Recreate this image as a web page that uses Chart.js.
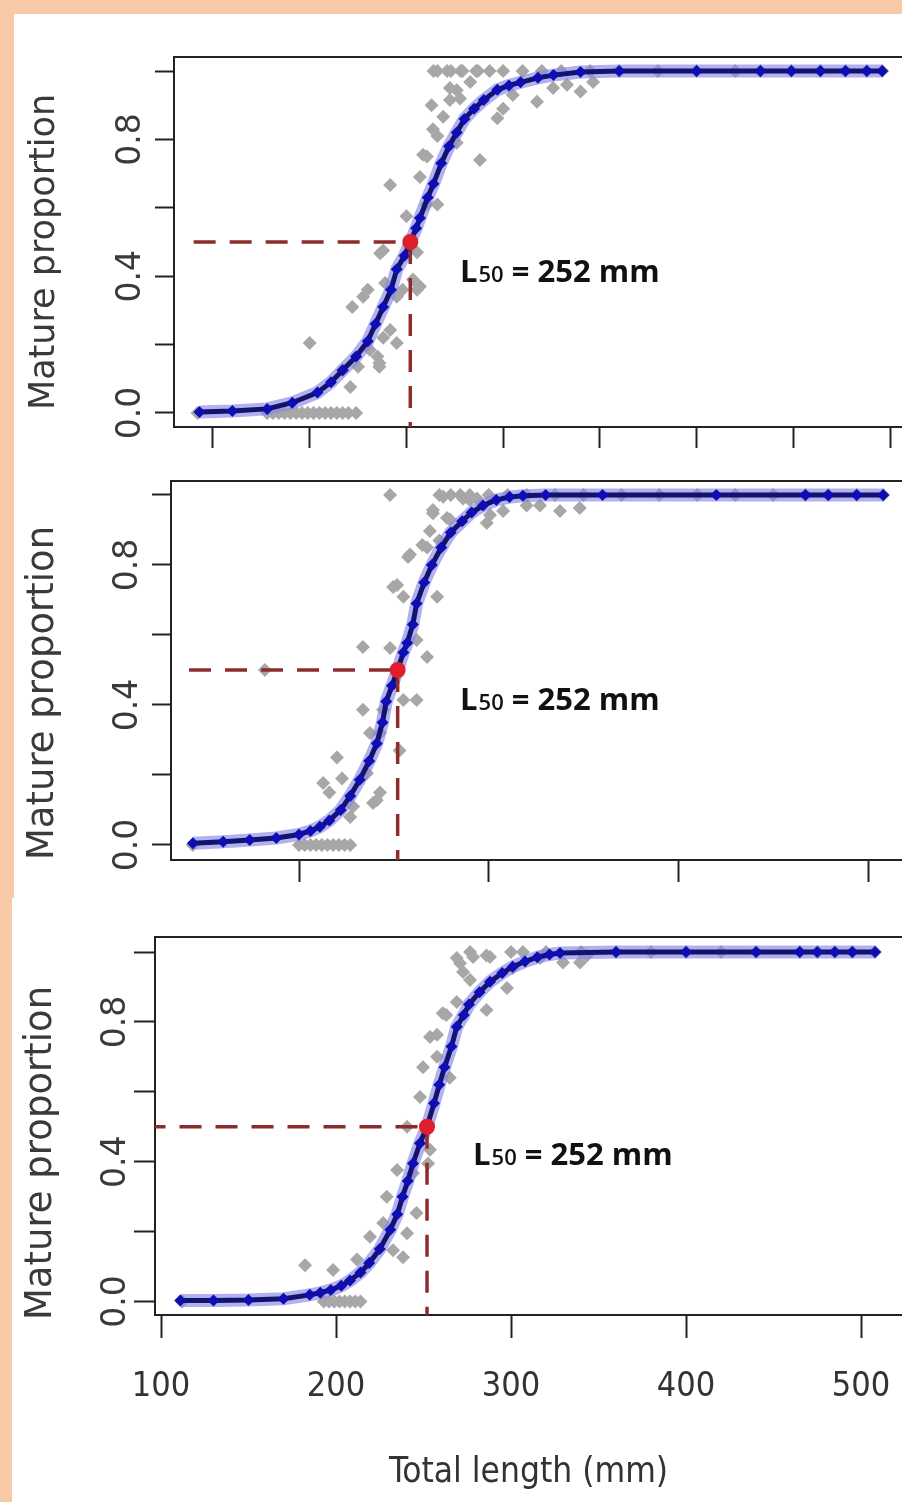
<!DOCTYPE html>
<html>
<head>
<meta charset="utf-8">
<script src="https://cdn.jsdelivr.net/npm/chart.js@4.4.1/dist/chart.umd.min.js"></script>
<style>
html,body{margin:0;padding:0;}
body{width:902px;height:1502px;background:#f8caa8;position:relative;overflow:hidden;}
.white{position:absolute;background:#ffffff;}
canvas{position:absolute;}
</style>
</head>
<body>
<div class="white" style="left:14px;top:14px;width:888px;height:884px"></div>
<div class="white" style="left:12px;top:898px;width:890px;height:604px"></div>
<canvas id="c1" width="888" height="446" style="left:14px;top:14px"></canvas>
<canvas id="c2" width="888" height="453" style="left:14px;top:445px"></canvas>
<canvas id="c3" width="890" height="604" style="left:12px;top:898px"></canvas>
<script>
// ---------------- DATA ----------------
const yTickValues = [0, 0.2, 0.4, 0.6, 0.8, 1.0];
const yTickLabelled = [0, 0.4, 0.8];
const p1XTicks = [150, 200, 250, 300, 350, 400, 450, 500];
const p2XTicks = [200, 300, 400, 500];
const p3XTicks = [100, 200, 300, 400, 500];
const l50Value = 252;
const l50Parts = ['L', '50', ' = 252 mm'];
const yTitleText = 'Mature proportion';
const xTitleText = 'Total length (mm)';

// Panel 1 – fitted curve
const p1CurveX = [143,160,178,191,204,211,217,224,230,234,238,242,245,249,252,255,257,261,264,268,272,276,280,285,290,297,303,309,318,326,340,360,400,433,449,464,477,488,496];
const p1CurveY = [0.003,0.006,0.012,0.03,0.06,0.09,0.125,0.165,0.21,0.26,0.31,0.36,0.42,0.46,0.50,0.54,0.57,0.63,0.67,0.73,0.78,0.82,0.86,0.89,0.915,0.945,0.958,0.967,0.98,0.988,0.997,1,1,1,1,1,1,1,1];
// Panel 1 – observed proportions
const p1ObsX = [142,178,181,184,187,190,193,196,199,202,205,208,211,214,217,220,224,
  200,217,221,222,225,227.6,230,231,236,238,241.6,245,235,236,239,245,248,253.4,257,238,236.4,250,255.5,255.5,241.6,257,260.6,260.6,266,263.7,269,272.5,276,288,263,276,258.6,266,272.5,277.7,283,297,300,305,317.5,325.8,333,340,346.5,
  264,266,271,273,278,279,286,287,293,300,310,320,330,345,360,380,400,420,433,449,464,477,488,496];
const p1ObsY = [0,0,0,0,0,0,0,0,0,0,0,0,0,0,0,0,0,
  0.205,0.125,0.076,0.31,0.135,0.34,0.36,0.185,0.135,0.22,0.243,0.205,0.165,0.146,0.38,0.34,0.36,0.39,0.37,0.475,0.467,0.575,0.47,0.36,0.667,0.69,0.75,0.61,0.61,0.83,0.866,0.915,0.944,0.74,0.90,0.79,0.755,0.81,0.95,0.92,0.968,0.862,0.89,0.93,0.91,0.95,0.96,0.94,0.968,
  1,1,1,1,1,1,1,1,1,1,1,1,1,1,1,1,1,1,1,1,1,1,1,1];

// Panel 2 – fitted curve
const p2CurveX = [144,160,174,188,200,206,211,216,222,227,232,237,241,244,246,249,252,255,257,260,262,266,270,275,280,286,291,297,304,311,318,330,360,420,467,479,494,508];
const p2CurveY = [0.005,0.009,0.014,0.02,0.03,0.04,0.052,0.07,0.10,0.14,0.186,0.24,0.29,0.35,0.41,0.455,0.50,0.55,0.577,0.63,0.69,0.75,0.80,0.85,0.893,0.925,0.95,0.97,0.986,0.994,0.998,1,1,1,1,1,1,1];
// Panel 2 – observed proportions
const p2ObsX = [144,200,203,206,209,212,215,218,221,224,227,
  212.7,220,222.7,216,227,228.5,235.8,241,239,242.7,233.7,237.4,242.7,244.3,253,255,262,233.7,248,262,267.5,249.6,255,257.5,272.8,248,270.6,276,267.5,274,279.6,290,299,274,270.6,278,269,258.5,265,251.7,293.8,286.5,300.7,307.6,320,327,337.6,348,182,
  280,285,290,300,310,320,335,350,370,390,410,430,450,467,479,494,508];
const p2ObsY = [0,0,0,0,0,0,0,0,0,0,0,
  0.177,0.25,0.19,0.15,0.08,0.11,0.205,0.128,0.12,0.15,0.386,0.32,0.32,0.386,0.27,0.414,0.414,0.566,0.563,0.586,0.537,0.737,0.709,0.823,0.709,1.0,0.948,0.995,0.85,0.87,0.93,0.986,0.92,1.0,0.957,0.934,0.897,0.83,0.857,0.743,0.99,0.99,0.943,0.954,0.97,0.97,0.954,0.963,0.5,
  1,1,1,1,1,1,1,1,1,1,1,1,1,1,1,1,1];

// Panel 3 – fitted curve
const p3CurveX = [111,130,150,170,185,191,197,203,208,214,219,225,231,235,238,241,244,248,252,256,259,262,266,269,273,276,282,288,295,301,308,315,322,328,360,400,440,465,475,485,495,508];
const p3CurveY = [0.003,0.003,0.004,0.008,0.019,0.025,0.033,0.045,0.06,0.083,0.11,0.15,0.205,0.25,0.30,0.345,0.395,0.453,0.50,0.567,0.62,0.67,0.73,0.786,0.82,0.85,0.885,0.915,0.94,0.958,0.973,0.985,0.993,0.997,1,1,1,1,1,1,1,1];
// Panel 3 – observed proportions
const p3ObsX = [112,193,196,199,202,205,208,211,214,
  182.3,198.3,212,219.4,227,232.6,238.3,240.6,229,234.9,246,244,253.7,252.6,240.6,248,249.7,257.7,265,253.7,261,270.9,278.3,288,286,276.6,269,276.6,286,272.6,269,263,257.7,297.7,306.8,316.6,329.7,339.4,343.4,301,
  300,320,340,360,380,400,420,440,465,475,485,495,508];
const p3ObsY = [0,0,0,0,0,0,0,0,0,
  0.104,0.09,0.12,0.185,0.225,0.147,0.127,0.195,0.30,0.376,0.253,0.367,0.434,0.395,0.50,0.585,0.67,0.70,0.64,0.757,0.825,0.968,0.986,0.986,0.834,0.92,0.983,1.0,0.99,0.943,0.857,0.82,0.763,0.897,1.0,0.983,0.97,0.97,0.99,0.954,
  1,1,1,1,1,1,1,1,1,1,1,1,1];

// ---------------- DRAWING ----------------
const pts = (xs, ys) => xs.map((x, i) => ({x: x, y: ys[i]}));

const annotPlugin = {
  id: 'annot',
  afterDatasetsDraw(chart, args, o) {
    const {ctx, chartArea, scales: {x, y}} = chart;
    // top border of the plot box
    ctx.save();
    ctx.strokeStyle = '#222';
    ctx.lineWidth = 2;
    ctx.beginPath();
    ctx.moveTo(chartArea.left - 1, chartArea.top);
    ctx.lineTo(chartArea.right, chartArea.top);
    ctx.stroke();
    ctx.restore();
    // y title
    ctx.save();
    ctx.translate(o.yTitleX, o.yTitleY);
    ctx.rotate(-Math.PI / 2);
    ctx.font = o.yTitleSize + 'px "DejaVu Sans"';
    ctx.fillStyle = '#3a3a3a';
    ctx.textAlign = 'center';
    ctx.textBaseline = 'alphabetic';
    ctx.fillText(yTitleText, 0, 0);
    ctx.restore();
    // L50 label
    ctx.save();
    let px = x.getPixelForValue(o.labelX);
    const py = y.getPixelForValue(o.labelY);
    ctx.fillStyle = '#111';
    ctx.textBaseline = 'alphabetic';
    ctx.textAlign = 'left';
    ctx.font = 'bold 31px "Open Sans", "Liberation Sans", sans-serif';
    ctx.fillText(l50Parts[0], px, py);
    px += ctx.measureText(l50Parts[0]).width + 1;
    ctx.font = '600 22px "Open Sans", "Liberation Sans", sans-serif';
    ctx.fillText(l50Parts[1], px, py);
    px += ctx.measureText(l50Parts[1]).width;
    ctx.font = 'bold 31px "Open Sans", "Liberation Sans", sans-serif';
    ctx.fillText(l50Parts[2], px, py);
    ctx.restore();
  }
};

function makePanel(id, c) {
  const dash = {showLine: true, borderColor: '#8e2b2b', borderWidth: 3.5, borderDash: [22, 14], pointRadius: 0, fill: false};
  new Chart(document.getElementById(id), {
    type: 'scatter',
    data: {
      datasets: [
        {data: pts(c.obsX, c.obsY), pointStyle: 'rectRot', pointRadius: 7, backgroundColor: '#a7a7a7', borderWidth: 0, order: 6},
        {data: pts(c.curveX, c.curveY), showLine: true, borderColor: 'rgba(135,135,232,0.65)', borderWidth: 13, pointRadius: 0, order: 5},
        {data: pts(c.curveX, c.curveY), showLine: true, borderColor: '#13136c', borderWidth: 5, pointStyle: 'rectRot', pointRadius: 6, pointBackgroundColor: '#0e0eb2', pointBorderWidth: 0, order: 4},
        Object.assign({data: [{x: c.hStart, y: 0.5}, {x: l50Value, y: 0.5}], order: 3}, dash),
        Object.assign({data: [{x: l50Value, y: 0.5}, {x: l50Value, y: -0.08}], order: 2}, dash),
        {data: [{x: l50Value, y: 0.5}], pointStyle: 'circle', pointRadius: 8, backgroundColor: '#de1e2c', borderWidth: 0, order: 1}
      ]
    },
    options: {
      responsive: false,
      animation: false,
      events: [],
      layout: {autoPadding: false, padding: {top: c.padTop, left: 0, right: 0, bottom: 0}},
      plugins: {
        legend: {display: false},
        tooltip: {enabled: false},
        annot: {yTitleX: c.yTitleX, yTitleY: c.yTitleY, yTitleSize: c.yTitleSize, labelX: c.labelX, labelY: c.labelY}
      },
      scales: {
        x: {
          type: 'linear', min: c.xMin, max: c.xMax,
          afterBuildTicks: s => { s.ticks = c.xTicks.map(v => ({value: v})); },
          afterFit: s => { s.height = c.xAxisH; s.paddingLeft = 0; s.paddingRight = 0; },
          grid: {drawOnChartArea: false, drawTicks: true, tickLength: c.xTickLen, tickWidth: 2, color: '#222'},
          border: {display: true, color: '#222', width: 2},
          ticks: {display: c.xLabels, padding: c.xTickPad, color: '#333',
                  font: {family: '"Liberation Sans Narrow", "DejaVu Sans Condensed", "Roboto", sans-serif', size: 34},
                  callback: v => String(v)},
          title: {display: c.xLabels, text: xTitleText, color: '#333',
                  font: {family: '"Liberation Sans Narrow", "DejaVu Sans Condensed", "Roboto", sans-serif', size: 35},
                  padding: {top: 0, bottom: 8}}
        },
        y: {
          min: c.yMin, max: c.yMax,
          afterBuildTicks: s => { s.ticks = yTickValues.map(v => ({value: v})); },
          afterFit: s => { s.width = c.yAxisW; s.paddingTop = 0; s.paddingBottom = 0; },
          grid: {drawOnChartArea: false, drawTicks: true, tickLength: c.yTickLen, tickWidth: 2, color: '#222'},
          border: {display: true, color: '#222', width: 2},
          ticks: {minRotation: 90, maxRotation: 90, crossAlign: 'center', padding: c.yTickPad, color: '#3a3a3a',
                  font: {family: '"DejaVu Sans", sans-serif', size: 33},
                  callback: v => (yTickLabelled.indexOf(v) >= 0 ? v.toFixed(1) : '')}
        }
      }
    },
    plugins: [annotPlugin]
  });
}

makePanel('c1', {
  curveX: p1CurveX, curveY: p1CurveY, obsX: p1ObsX, obsY: p1ObsY, hStart: 140,
  xMin: 129.84, xMax: 506.2, yMin: -0.041, yMax: 1.041, xTicks: p1XTicks, xLabels: false,
  padTop: 43, yAxisW: 160, xAxisH: 33, xTickLen: 21, yTickLen: 19, yTickPad: -3, xTickPad: 0,
  yTitleX: 40, yTitleY: 238, yTitleSize: 35, labelX: 277.7, labelY: 0.383
});
makePanel('c2', {
  curveX: p2CurveX, curveY: p2CurveY, obsX: p2ObsX, obsY: p2ObsY, hStart: 142,
  xMin: 132.5, xMax: 517.9, yMin: -0.043, yMax: 1.04, xTicks: p2XTicks, xLabels: false,
  padTop: 36, yAxisW: 157, xAxisH: 38, xTickLen: 22, yTickLen: 19, yTickPad: -3, xTickPad: 0,
  yTitleX: 39, yTitleY: 248, yTitleSize: 37, labelX: 284.9, labelY: 0.386
});
makePanel('c3', {
  curveX: p3CurveX, curveY: p3CurveY, obsX: p3ObsX, obsY: p3ObsY, hStart: 90,
  xMin: 96.57, xMax: 523.4, yMin: -0.0386, yMax: 1.043, xTicks: p3XTicks, xLabels: true,
  padTop: 39, yAxisW: 143, xAxisH: 187, xTickLen: 23, yTickLen: 21, yTickPad: -9, xTickPad: 29,
  yTitleX: 39, yTitleY: 255, yTitleSize: 37, labelX: 278.3, labelY: 0.39
});
</script>
</body>
</html>
